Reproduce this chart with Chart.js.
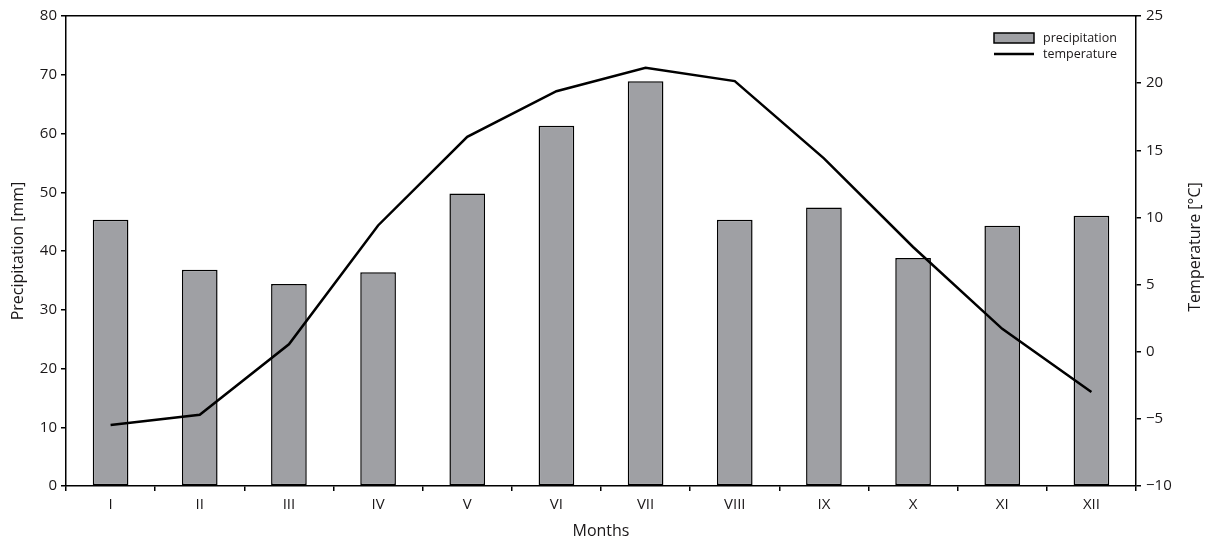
<!DOCTYPE html>
<html>
<head>
<meta charset="utf-8">
<script src="https://cdn.jsdelivr.net/npm/chart.js@4.4.1/dist/chart.umd.min.js"></script>
<style>
  html, body { margin: 0; padding: 0; background: #fff; }
  #wrap { width: 1214px; height: 544px; position: relative; }
</style>
</head>
<body>
<div id="wrap"><canvas id="climChart"></canvas></div>
<script>
// months, precipitation [mm], temperature [°C]
const months = ['I', 'II', 'III', 'IV', 'V', 'VI', 'VII', 'VIII', 'IX', 'X', 'XI', 'XII'];
const precipitation = [45.3, 36.8, 34.4, 36.4, 49.8, 61.3, 68.9, 45.3, 47.4, 38.8, 44.3, 46.0];
const temperature = [-5.45, -4.7, 0.55, 9.4, 16.0, 19.4, 21.15, 20.15, 14.4, 7.8, 1.7, -3.0];
const seriesNames = ['precipitation', 'temperature'];
const rightTitle = 'Temperature [°C]';

const ink = '#1a1718';
const barFill = '#9fa0a4';
const fontFam = '"Open Sans", "Noto Sans", sans-serif';

// legend inside the plot (top right) + right axis title reading upwards
const boxLegend = {
  id: 'boxLegend',
  afterDraw(chart) {
    const ctx = chart.ctx;
    const a = chart.chartArea;
    const x = a.right - 142;
    const y1 = a.top + 22;
    const y2 = a.top + 38;
    ctx.save();
    ctx.fillStyle = barFill;
    ctx.strokeStyle = '#000';
    ctx.lineWidth = 1.5;
    ctx.fillRect(x, y1 - 5, 40, 10);
    ctx.strokeRect(x, y1 - 5, 40, 10);
    ctx.lineWidth = 2.5;
    ctx.beginPath();
    ctx.moveTo(x, y2);
    ctx.lineTo(x + 40, y2);
    ctx.stroke();
    ctx.fillStyle = ink;
    ctx.font = '12.5px ' + fontFam;
    ctx.textBaseline = 'middle';
    ctx.fillText(seriesNames[0], x + 49, y1);
    ctx.fillText(seriesNames[1], x + 49, y2);

    // right title
    const s = chart.scales.y1;
    ctx.translate(s.right - 19, (a.top + a.bottom) / 2 - 4);
    ctx.rotate(-Math.PI / 2);
    ctx.font = '16px ' + fontFam;
    ctx.textAlign = 'center';
    ctx.fillText(rightTitle, 0, 0);
    ctx.restore();
  }
};

document.addEventListener('DOMContentLoaded', function() {
  const ctx = document.getElementById('climChart');
  new Chart(ctx, {
    type: 'bar',
    data: {
      labels: months,
      datasets: [{
        type: 'line',
        label: seriesNames[1],
        data: temperature,
        yAxisID: 'y1',
        borderColor: '#000',
        borderWidth: 2.5,
        pointRadius: 0,
        tension: 0,
        fill: false,
        order: 0
      },
      {
        type: 'bar',
        label: seriesNames[0],
        data: precipitation,
        yAxisID: 'y',
        backgroundColor: barFill,
        borderColor: '#000',
        borderWidth: 1.5,
        borderSkipped: false,
        barPercentage: 0.4,
        categoryPercentage: 1,
        order: 1
      }]
    },
    options: {
      responsive: true,
      maintainAspectRatio: false,
      animation: false,
      layout: { padding: 0 },
      plugins: {
        legend: { display: false },
        tooltip: { enabled: false }
      },
      scales: {
        x: {
          position: 'bottom',
          afterFit: (s) => { s.height = 58; },
          ticks: { color: ink, font: { family: fontFam, size: 15 }, padding: 5 },
          grid: { drawOnChartArea: false, drawTicks: true, tickLength: 5, color: '#000', lineWidth: 1.5 },
          border: { display: true, color: '#000', width: 1.5 },
          title: { display: true, text: 'Months', color: ink, font: { family: fontFam, size: 16 }, padding: { top: 0, bottom: 3 } }
        },
        x2: {
          position: 'top',
          afterFit: (s) => { s.height = 16; },
          ticks: { display: false },
          grid: { drawOnChartArea: false, drawTicks: false },
          border: { display: true, color: '#000', width: 1.5 }
        },
        y: {
          position: 'left',
          min: 0,
          max: 80,
          afterFit: (s) => { s.width = 66; },
          ticks: { stepSize: 10, color: ink, font: { family: fontFam, size: 15 }, padding: 4 },
          grid: { drawOnChartArea: false, drawTicks: true, tickLength: 5, color: '#000', lineWidth: 1.5 },
          border: { display: true, color: '#000', width: 1.5 },
          title: { display: true, text: 'Precipitation [mm]', color: ink, font: { family: fontFam, size: 16 }, padding: { top: 9, bottom: 0 } }
        },
        y1: {
          position: 'right',
          min: -10,
          max: 25,
          afterFit: (s) => { s.width = 78; },
          ticks: {
            stepSize: 5,
            color: ink,
            font: { family: fontFam, size: 15 },
            padding: 5,
            callback: (v) => String(v).replace('-', '\u2212')
          },
          grid: { drawOnChartArea: false, drawTicks: true, tickLength: 5, color: '#000', lineWidth: 1.5 },
          border: { display: true, color: '#000', width: 1.5 },
          title: { display: false }
        }
      }
    },
    plugins: [boxLegend]
  });
});
</script>
</body>
</html>
